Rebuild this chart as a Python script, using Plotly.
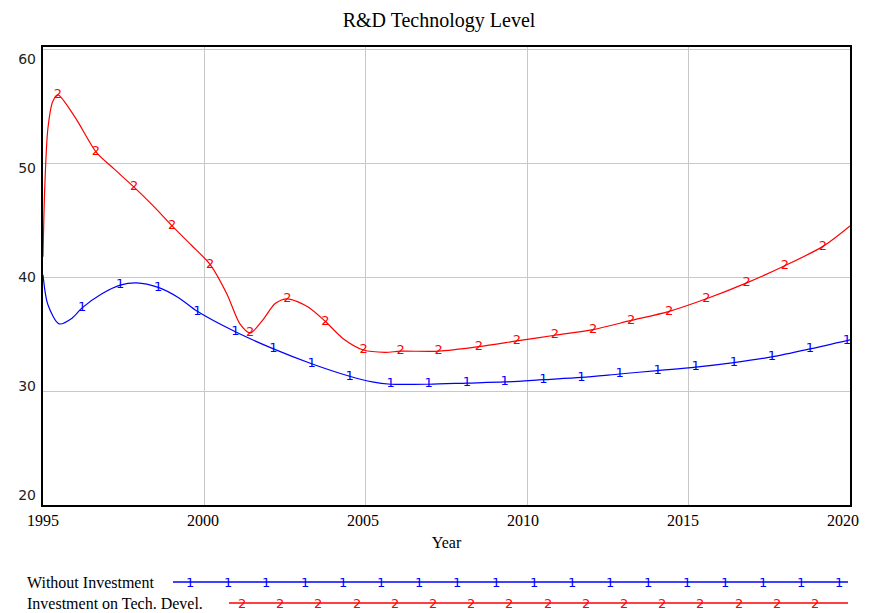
import numpy as np
import plotly.graph_objects as go

# curve of each run (year, level)
blue_years = [1995.0, 1995.15, 1995.5, 1995.9, 1996.21, 1996.8, 1997.39, 1997.9, 1998.57, 1999.2,
              1999.78, 2000.96, 2002.14, 2003.32, 2004.5, 2005.2, 2005.77, 2006.95, 2008.13, 2009.3,
              2010.5, 2011.68, 2012.86, 2014.04, 2015.22, 2016.4, 2017.58, 2018.76, 2020.0]
blue_vals = [40.2, 37.6, 35.9, 36.4, 37.3, 38.5, 39.3, 39.5, 39.1, 38.2,
             37.0, 35.2, 33.7, 32.4, 31.3, 30.8, 30.6, 30.6, 30.7, 30.8,
             31.0, 31.2, 31.5, 31.8, 32.1, 32.5, 33.0, 33.7, 34.5]

red_years = [1995.0, 1995.05, 1995.15, 1995.3, 1995.46, 1996.0, 1996.64, 1997.2, 1997.82, 1998.4,
             1999.0, 1999.6, 2000.18, 2000.7, 2001.1, 2001.42, 2001.8, 2002.2, 2002.57, 2003.2,
             2003.75, 2004.3, 2004.93, 2005.6, 2006.08, 2007.26, 2008.5, 2009.68, 2010.86, 2012.04,
             2013.22, 2014.4, 2015.55, 2016.8, 2017.98, 2019.16, 2020.0]
red_vals = [41.8, 47.5, 53.0, 55.4, 56.0, 54.0, 51.0, 49.5, 47.9, 46.3,
            44.5, 42.8, 41.1, 38.5, 35.9, 35.1, 36.2, 37.7, 38.1, 37.4,
            36.1, 34.6, 33.6, 33.4, 33.5, 33.5, 33.9, 34.4, 34.9, 35.4,
            36.2, 37.0, 38.1, 39.5, 41.0, 42.7, 44.5]

# number labels drawn along the curves
blue_mark_years = [1996.21, 1997.39, 1998.57, 1999.78, 2000.96, 2002.14, 2003.32, 2004.5, 2005.77,
                   2006.95, 2008.13, 2009.3, 2010.5, 2011.68, 2012.86, 2014.04, 2015.22, 2016.4,
                   2017.58, 2018.76, 2019.9]
blue_mark_vals = [37.3, 39.3, 39.1, 37.0, 35.2, 33.7, 32.4, 31.3, 30.6,
                  30.6, 30.7, 30.8, 31.0, 31.2, 31.5, 31.8, 32.1, 32.5,
                  33.0, 33.7, 34.4]
red_mark_years = [1995.46, 1996.64, 1997.82, 1999.0, 2000.18, 2001.42, 2002.57, 2003.75, 2004.93,
                  2006.08, 2007.26, 2008.5, 2009.68, 2010.86, 2012.04, 2013.22, 2014.4, 2015.55,
                  2016.8, 2017.98, 2019.16]
red_mark_vals = [56.0, 51.0, 47.9, 44.5, 41.1, 35.1, 38.1, 36.1, 33.6,
                 33.5, 33.5, 33.9, 34.4, 34.9, 35.4, 36.2, 37.0, 38.1,
                 39.5, 41.0, 42.7]

x_ticks = [1995, 2000, 2005, 2010, 2015, 2020]
y_ticks = [20, 30, 40, 50, 60]

BLUE = "#0000ff"
RED = "#ff0000"
SERIF = "Liberation Serif, Times New Roman, serif"
SANS = "DejaVu Sans, Verdana, sans-serif"

fig = go.Figure()
fig.add_trace(go.Scatter(x=blue_years, y=blue_vals, mode="lines",
                         line=dict(color=BLUE, width=1.2, shape="spline", smoothing=0.8),
                         showlegend=False, hoverinfo="skip"))
fig.add_trace(go.Scatter(x=red_years, y=red_vals, mode="lines",
                         line=dict(color=RED, width=1.2, shape="spline", smoothing=0.8),
                         showlegend=False, hoverinfo="skip"))
fig.add_trace(go.Scatter(x=blue_mark_years, y=blue_mark_vals, mode="text",
                         text=["1"] * len(blue_mark_years), textposition="middle center",
                         textfont=dict(family=SANS, size=13, color=BLUE),
                         name="Without Investment", showlegend=False))
fig.add_trace(go.Scatter(x=red_mark_years, y=red_mark_vals, mode="text",
                         text=["2"] * len(red_mark_years), textposition="middle center",
                         textfont=dict(family=SANS, size=13, color=RED),
                         name="Investment on Tech. Devel.", showlegend=False))
# empty trace so the label-only axes are drawn
fig.add_trace(go.Scatter(x=[None], y=[None], xaxis="x2", yaxis="y2",
                         showlegend=False, hoverinfo="skip"))

# the page puts the figure 8px in from the top-left corner, so work in shifted pixels
OFF = 8
W, H = 870 - OFF, 613 - OFF
# plot area in page pixels: x 43..850, y 47..505
L, R, T, B = 43 - OFF, 850 - OFF, 47 - OFF, 505 - OFF


def px(x):
    return (x - OFF - L) / (R - L)


def py(y):
    return (B - (y - OFF)) / (B - T)


shapes = []
annotations = []
# legend block under the chart
legend_rows = [
    ("Without Investment", BLUE, "1", 582, 173, np.arange(190, 845, 38.2)),
    ("Investment on Tech. Devel.", RED, "2", 603, 229, np.arange(242, 820, 38.2)),
]
for label, color, num, yy, x0, marks in legend_rows:
    annotations.append(dict(text=label, x=px(25), y=py(yy), xref="paper", yref="paper",
                            xanchor="left", yanchor="middle", showarrow=False,
                            font=dict(family=SERIF, size=16, color="#000000")))
    shapes.append(dict(type="line", xref="paper", yref="paper", x0=px(x0), x1=px(848),
                       y0=py(yy), y1=py(yy), line=dict(color=color, width=1.5)))
    for m in marks:
        annotations.append(dict(text=num, x=px(m), y=py(yy), xref="paper", yref="paper",
                                xanchor="center", yanchor="middle", showarrow=False,
                                font=dict(family=SANS, size=13, color=color)))

# the value labels on the left sit a little inside the 20..60 span
lab_lo, lab_hi = 495, 59
per_unit = (lab_lo - lab_hi) / (y_ticks[-1] - y_ticks[0])
y2_range = [y_ticks[0] - (505 - lab_lo) / per_unit, y_ticks[0] + (lab_lo - 47) / per_unit]
# year labels: keep the last one inside the visible page
xl_lo, xl_hi = 43, 843
per_year = (xl_hi - xl_lo) / (x_ticks[-1] - x_ticks[0])
x2_range = [x_ticks[0], x_ticks[0] + (850 - 43) / per_year]

fig.update_layout(
    width=W, height=H,
    margin=dict(l=L, r=W - R, t=T, b=H - B, autoexpand=False),
    paper_bgcolor="white", plot_bgcolor="white",
    title=dict(text="R&D Technology Level", x=0.5, xanchor="center",
               y=1 - (20 - OFF) / H, yanchor="middle",
               font=dict(family=SERIF, size=20, color="#000000")),
    shapes=shapes, annotations=annotations,
    xaxis=dict(range=[1995, 2020], tickvals=x_ticks, showgrid=True, gridcolor="#c8c8c8",
               gridwidth=1, zeroline=False, showline=True, linecolor="#000000", linewidth=2,
               mirror=True, ticks="", showticklabels=False, automargin=False),
    yaxis=dict(range=[20, 60.2], tickvals=y_ticks, showgrid=True, gridcolor="#c8c8c8",
               gridwidth=1, zeroline=False, showline=True, linecolor="#000000", linewidth=2,
               mirror=True, ticks="", showticklabels=False, automargin=False),
    xaxis2=dict(overlaying="x", side="bottom", anchor="y", range=x2_range, tickvals=x_ticks,
                showgrid=False, zeroline=False, showline=False, ticks="", automargin=False,
                ticklabelstandoff=4,
                tickfont=dict(family=SERIF, size=16, color="#000000"),
                title=dict(text="Year", font=dict(family=SERIF, size=16, color="#000000"),
                           standoff=8)),
    yaxis2=dict(overlaying="y", side="left", anchor="x", range=y2_range, tickvals=y_ticks,
                showgrid=False, zeroline=False, showline=False, ticks="",
                ticklabelstandoff=6, automargin=False,
                tickfont=dict(family=SANS, size=14, color="#222222")),
)

fig.write_html("out.html")
